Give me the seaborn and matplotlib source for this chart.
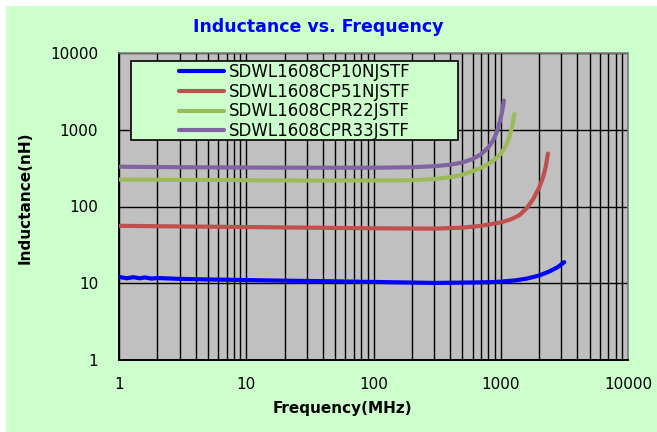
import pandas as pd
import matplotlib.pyplot as plt
import seaborn as sns
from matplotlib.patches import Rectangle
from matplotlib.ticker import LogLocator, FuncFormatter, NullFormatter

# Values (frequency in MHz, inductance in nH)
freq_10n = [1, 1.15, 1.3, 1.45, 1.6, 1.8, 2, 3, 5, 10, 20, 50, 100, 300, 500, 800,
            1000, 1300, 1600, 2000, 2400, 2800, 3150]
ind_10n = [12.1, 11.6, 12.0, 11.6, 11.9, 11.5, 11.7, 11.4, 11.2, 11.0, 10.8, 10.6,
           10.4, 10.1, 10.2, 10.3, 10.5, 10.9, 11.5, 12.6, 14.2, 16.2, 18.8]

freq_51n = [1, 3, 10, 30, 100, 300, 500, 700, 1000, 1200, 1400, 1600, 1800, 2000,
            2150, 2250, 2350]
ind_51n = [56, 55, 54, 53, 52, 51.5, 53, 56, 62, 68, 77, 95, 125, 175, 240, 320, 490]

freq_r22 = [1, 3, 10, 30, 100, 200, 300, 400, 500, 600, 700, 800, 900, 1000, 1100,
            1170, 1230, 1280]
ind_r22 = [225, 222, 220, 218, 218, 220, 228, 240, 260, 288, 320, 360, 410, 485, 620,
           820, 1100, 1600]

freq_r33 = [1, 3, 10, 30, 100, 200, 300, 400, 500, 600, 700, 800, 870, 930, 980,
            1020, 1060]
ind_r33 = [330, 325, 322, 320, 320, 325, 335, 350, 375, 415, 480, 590, 720, 930, 1250,
           1650, 2400]

part_names = ["SDWL1608CP10NJSTF", "SDWL1608CP51NJSTF", "SDWL1608CPR22JSTF", "SDWL1608CPR33JSTF"]
line_colors = ["#0000FF", "#C0504D", "#9BBB59", "#8064A2"]
tick_values = [1, 10, 100, 1000, 10000]

frames = []
for name, f, L in zip(part_names,
                      [freq_10n, freq_51n, freq_r22, freq_r33],
                      [ind_10n, ind_51n, ind_r22, ind_r33]):
    frames.append(pd.DataFrame({"Frequency": f, "Inductance": L, "Part": name}))
df = pd.concat(frames, ignore_index=True)

sns.set_style("white")
plt.rcParams['font.family'] = ['DejaVu Sans']
plt.rcParams['text.color'] = 'black'
plt.rcParams['axes.labelcolor'] = 'black'

fig = plt.figure(figsize=(6.57, 4.32), dpi=100, facecolor="white")
# light green chart background with a thin white margin top/left
fig.patches.append(Rectangle((6 / 657, 0), 1, 426 / 432, transform=fig.transFigure,
                             facecolor="#CCFFCC", edgecolor="none", zorder=-10))

ax = fig.add_axes([119 / 657, 1 - 360 / 432, 509 / 657, 307 / 432])
ax.set_facecolor("#C0C0C0")

sns.lineplot(data=df, x="Frequency", y="Inductance", hue="Part", hue_order=part_names,
             palette=line_colors, estimator=None, sort=True, lw=3.0, ax=ax, zorder=3)

ax.set_xscale("log")
ax.set_yscale("log")
ax.set_xlim(1, 10000)
ax.set_ylim(1, 10000)
ax.set_xticks(tick_values)
ax.set_yticks(tick_values)
ax.xaxis.set_minor_locator(LogLocator(base=10, subs=range(2, 10)))
ax.yaxis.set_minor_locator(LogLocator(base=10, subs=[]))
fmt = FuncFormatter(lambda v, p: f"{v:g}")
ax.xaxis.set_major_formatter(fmt)
ax.yaxis.set_major_formatter(fmt)
ax.xaxis.set_minor_formatter(NullFormatter())
ax.tick_params(axis="both", which="both", length=0, labelsize=11,
               colors="black", labelcolor="black")
ax.tick_params(axis="x", pad=12)
ax.tick_params(axis="y", pad=15)

ax.grid(which="major", axis="both", color="black", lw=1.0)
ax.grid(which="minor", axis="x", color="black", lw=1.0)
ax.set_axisbelow(True)

for side in ["left", "bottom"]:
    ax.spines[side].set_color("black")
    ax.spines[side].set_linewidth(1.4)
for side in ["top", "right"]:
    ax.spines[side].set_color("#808080")
    ax.spines[side].set_linewidth(1.2)

ax.set_xlabel("Frequency(MHz)", fontsize=11, fontweight="bold", color="black")
ax.set_ylabel("Inductance(nH)", fontsize=11, fontweight="bold", color="black")
ax.xaxis.set_label_coords((342.5 - 119) / 509, -0.135)
ax.yaxis.set_label_coords(-0.17, 0.53)

fig.text(318.5 / 657, 1 - 27 / 432, "Inductance vs. Frequency", color="#0000FF",
         fontsize=12.5, fontweight="bold", ha="center", va="center")

# legend box
ax.add_patch(Rectangle((0.0236, 0.717), 0.642, 0.258, transform=ax.transAxes,
                       facecolor="#CCFFCC", edgecolor="black", lw=1.2, zorder=4))
leg = ax.legend(loc="center", bbox_to_anchor=(0.345, 0.842), frameon=False,
                fontsize=12, handlelength=2.7, labelspacing=0.1, handletextpad=0.25)
leg.set_zorder(5)
for line in leg.get_lines():
    line.set_linewidth(3.0)
for txt in leg.get_texts():
    txt.set_color("black")

fig.savefig("out.png", dpi=100, facecolor=fig.get_facecolor())
